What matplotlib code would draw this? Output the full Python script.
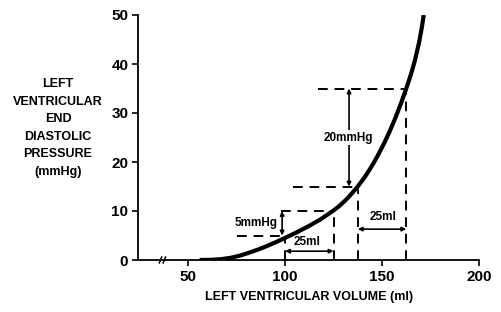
import matplotlib
matplotlib.use("Agg")
import matplotlib.pyplot as plt

# Curve (left ventricular volume ml, LVEDP mmHg)
vol = [56, 62, 67, 72, 77, 82, 86, 90, 94, 97, 100, 106, 112, 118, 125,
       128, 131, 134, 137.5, 140, 142, 144, 146, 148, 151, 154, 157, 160, 162.5, 165, 167, 169, 170.5, 171.5]
pres = [0, 0.04, 0.17, 0.45, 0.92, 1.56, 2.12, 2.74, 3.42, 3.95, 4.5, 5.64, 6.87, 8.22, 10.1,
        11.04, 12.12, 13.38, 15, 16.33, 17.45, 18.7, 20.03, 21.45, 23.75, 26.3, 29.1, 32.2, 35, 38.0, 40.8, 44.2, 47.4, 50]

x_ticks = [50, 100, 150, 200]
y_ticks = [0, 10, 20, 30, 40, 50]

# Illustrative pairs: (volume1, volume2, pressure1, pressure2)
pair1 = (100, 125, 5, 10)
pair2 = (137.5, 162.5, 15, 35)

FONT = "Liberation Sans"

fig = plt.figure(figsize=(5.01, 3.12), dpi=100)
ax = fig.add_axes([138/501, 52/312, 341/501, 245/312])
ax.set_xlim(24.2, 200)
ax.set_ylim(0, 50)
for s in ("top", "right"):
    ax.spines[s].set_visible(False)
for s in ("left", "bottom"):
    ax.spines[s].set_linewidth(1.3)
ax.spines["bottom"].set_zorder(1)

ax.plot(vol, pres, color="black", lw=3.0, solid_capstyle="butt", solid_joinstyle="round", zorder=3)

ax.set_xticks(x_ticks)
ax.set_yticks(y_ticks)
ax.set_xticklabels([str(v) for v in x_ticks], fontfamily=FONT, fontweight="bold", fontsize=11)
ax.set_yticklabels([str(v) for v in y_ticks], fontfamily=FONT, fontweight="bold", fontsize=11)
ax.tick_params(direction="out", length=4, width=1.2, pad=3)

dash = dict(color="black", lw=1.4, ls=(0, (5, 3.5)), zorder=2)
v1, v2, p1, p2 = pair1
ax.plot([75, v1], [p1, p1], **dash)
ax.plot([98, v2], [p2, p2], **dash)
ax.plot([v1, v1], [0, p1], **dash)
ax.plot([v2, v2], [0, p2], **dash)
w1, w2, q1, q2 = pair2
ax.plot([104, w1], [q1, q1], **dash)
ax.plot([117, w2], [q2, q2], **dash)
ax.plot([w1, w1], [0, q1], **dash)
ax.plot([w2, w2], [0, q2], **dash)

arr = dict(arrowstyle="<|-|>", color="black", lw=1.2, mutation_scale=6, shrinkA=0, shrinkB=0)
ax.annotate("", xy=(98.5, p1), xytext=(98.5, p2), arrowprops=arr)
ax.annotate("", xy=(v1, 1.8), xytext=(v2, 1.8), arrowprops=arr)
ax.annotate("", xy=(133, q1), xytext=(133, q2), arrowprops=arr)
ax.annotate("", xy=(w1, 6.3), xytext=(w2, 6.3), arrowprops=arr)

tk = dict(fontfamily=FONT, fontweight="bold", fontsize=8.5, color="black")
ax.text(96, 7.6, "5mmHg", ha="right", va="center", **tk)
ax.text(111.5, 3.7, "25ml", ha="center", va="center", **tk)
ax.text(132.5, 25, "20mmHg", ha="center", va="center",
        bbox=dict(facecolor="white", edgecolor="none", pad=1), zorder=4, **tk)
ax.text(150.5, 8.8, "25ml", ha="center", va="center", **tk)

# axis break marks
for xb in (35.8, 37.8):
    ax.plot([xb - 0.6, xb + 0.6], [-0.6, 0.6], color="black", lw=1.1, clip_on=False, zorder=5)

fig.text(58/501, 1 - 128/312, "LEFT\nVENTRICULAR\nEND\nDIASTOLIC\nPRESSURE\n(mmHg)",
         ha="center", va="center", linespacing=1.62, fontfamily=FONT, fontweight="bold", fontsize=9)
fig.text(309/501, 1 - 297/312, "LEFT VENTRICULAR VOLUME (ml)", ha="center", va="center",
         fontfamily=FONT, fontweight="bold", fontsize=9)

fig.savefig("out.png", dpi=100)
